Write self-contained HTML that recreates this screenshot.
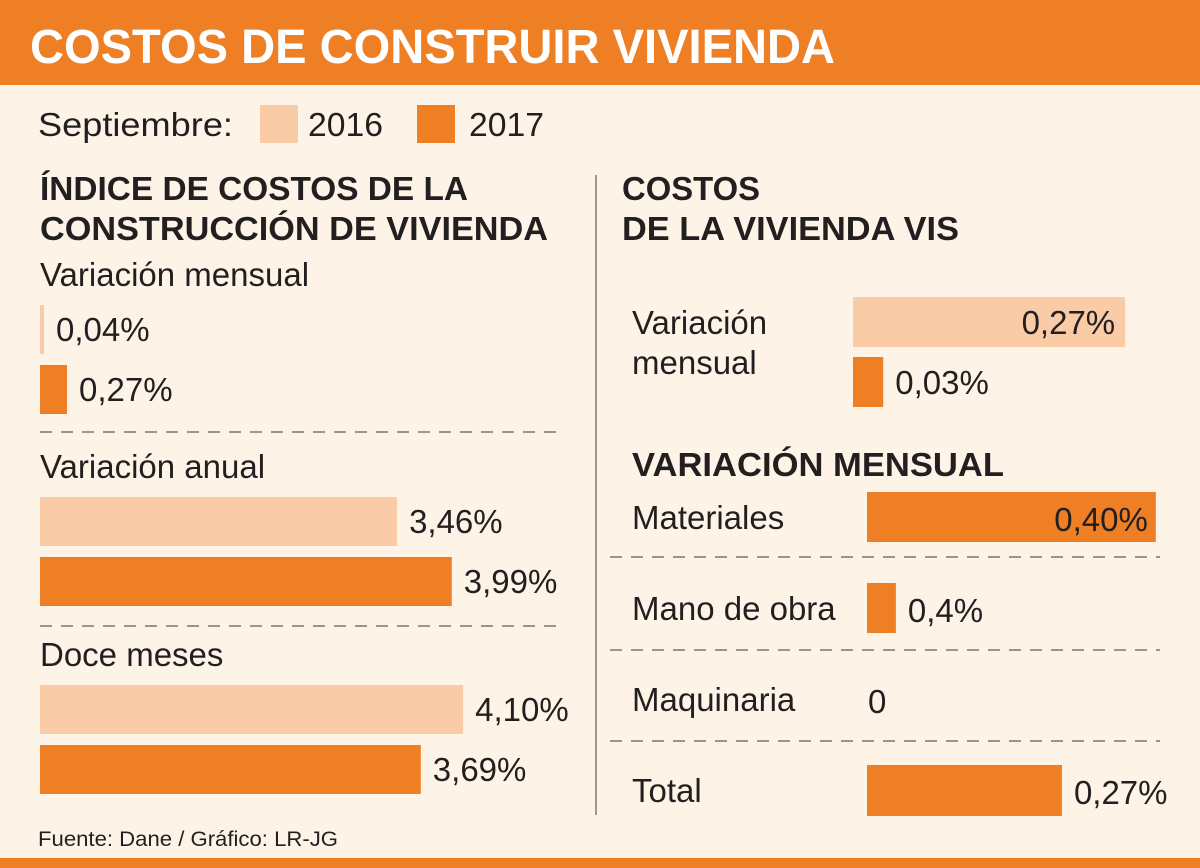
<!DOCTYPE html>
<html><head><meta charset="utf-8"><style>
html,body{margin:0;padding:0;background:#fdf4e7;}
svg{display:block;font-family:"Liberation Sans",sans-serif;}
.t{fill:#231f20;font-size:33px;}
.h{fill:#231f20;font-size:33px;font-weight:bold;}
</style></head><body>
<svg width="1200" height="868" viewBox="0 0 1200 868" xmlns="http://www.w3.org/2000/svg">
<rect x="0" y="0" width="1200" height="868" fill="#fdf4e7"/>
<rect x="0" y="0" width="1200" height="85" fill="#ef7f24"/>
<text x="30" y="63" fill="#fff" font-size="48" font-weight="bold" textLength="805" lengthAdjust="spacingAndGlyphs">COSTOS DE CONSTRUIR VIVIENDA</text>
<text class="t" x="38" y="136" textLength="195" lengthAdjust="spacingAndGlyphs">Septiembre:</text>
<rect x="260" y="105" width="38" height="38" fill="#f9cba6"/>
<text class="t" x="308" y="136" textLength="75" lengthAdjust="spacingAndGlyphs">2016</text>
<rect x="417" y="105" width="38" height="38" fill="#ef7f24"/>
<text class="t" x="469" y="136" textLength="75" lengthAdjust="spacingAndGlyphs">2017</text>

<text class="h" x="40" y="200" textLength="428" lengthAdjust="spacingAndGlyphs">ÍNDICE DE COSTOS DE LA</text>
<text class="h" x="40" y="240" textLength="508" lengthAdjust="spacingAndGlyphs">CONSTRUCCIÓN DE VIVIENDA</text>
<text class="h" x="622" y="200" textLength="138" lengthAdjust="spacingAndGlyphs">COSTOS</text>
<text class="h" x="622" y="240" textLength="337" lengthAdjust="spacingAndGlyphs">DE LA VIVIENDA VIS</text>
<text class="h" x="632" y="476" textLength="372" lengthAdjust="spacingAndGlyphs">VARIACIÓN MENSUAL</text>
<line x1="596" y1="175" x2="596" y2="815" stroke="#999" stroke-width="2"/>

<g id="left"></g>
<g id="right"></g>

<text x="38" y="846" fill="#231f20" font-size="21" textLength="300" lengthAdjust="spacingAndGlyphs">Fuente: Dane / Gráfico: LR-JG</text>
<rect x="0" y="858" width="1200" height="10" fill="#ef7f24"/>
</svg>
<script>
const NS="http://www.w3.org/2000/svg";
// Left chart data
const leftGroups=["Variación mensual","Variación anual","Doce meses"];
const left2016=[0.04,3.46,4.10];
const left2017=[0.27,3.99,3.69];
const leftLabels2016=["0,04%","3,46%","4,10%"];
const leftLabels2017=["0,27%","3,99%","3,69%"];
// Right chart data
const visSeries=["2016","2017"];
const visValues=[0.27,0.03];
const visLabels=["0,27%","0,03%"];
const compCategories=["Materiales","Mano de obra","Maquinaria","Total"];
const compValues=[0.40,0.04,0,0.27];
const compLabels=["0,40%","0,4%","0","0,27%"];

const C16="#f9cba6",C17="#ef7f24";
function mk(p,tag,at){const e=document.createElementNS(NS,tag);for(const k in at)e.setAttribute(k,at[k]);p.appendChild(e);return e;}
const L=document.getElementById('left'),R=document.getElementById('right');

// left axis scales
const xMensual=v=>40+v*100;
const xAnual=v=>40+v*103.2;
const groupY=[252,444,632];
leftGroups.forEach((g,i)=>{
  const sx=i===0?xMensual:xAnual;
  const gy=groupY[i];
  const t=mk(L,'text',{class:'t',x:40,y:gy+34});
  
  
  t.textContent=g;
  [[left2016,leftLabels2016,C16,gy+53],[left2017,leftLabels2017,C17,gy+113]].forEach(([vals,labs,col,y],s)=>{
    const w=Math.max(sx(vals[i])-40,0);
    const r=mk(L,'rect',{x:40,y:y,width:w,height:49,fill:col});
    
    
    const tx=mk(L,'text',{class:'t',x:40+w+12,y:y+36});
    
    
    tx.textContent=labs[i];
  });
});
[432,626].forEach(y=>{
  const l=mk(L,'line',{x1:40,y1:y,x2:556,y2:y,stroke:'#777','stroke-width':1.5,'stroke-dasharray':'12 9'});
  
  
});

// VIS
const xVis=v=>853+v*1008;
const tv1=mk(R,'text',{class:'t',x:632,y:334});


tv1.textContent='Variación';
const tv2=mk(R,'text',{class:'t',x:632,y:374});


tv2.textContent='mensual';
visValues.forEach((v,i)=>{
  const y=297+i*60,w=xVis(v)-853;
  const r=mk(R,'rect',{x:853,y:y,width:w,height:50,fill:i?C17:C16});
  
  
  const inside=w>150;
  const tx=mk(R,'text',{class:'t',x:inside?853+w-10:853+w+12,y:y+37,'text-anchor':inside?'end':'start'});
  
  
  tx.textContent=visLabels[i];
});

// Components
const xComp=v=>867+v*722;
compCategories.forEach((c,i)=>{
  const y=492+i*91;
  const t=mk(R,'text',{class:'t',x:632,y:y+37});
  
  
  t.textContent=c;
  const w=xComp(compValues[i])-867;
  if(w>0){
    const r=mk(R,'rect',{x:867,y:y,width:w,height:i===3?2+49:50,fill:C17});
    
    
  }
  const inside=w>250;
  const tx=mk(R,'text',{class:'t',x:inside?867+w-8:(w>0?867+w+12:868),y:y+39,'text-anchor':inside?'end':'start'});
  
  
  tx.textContent=compLabels[i];
});
[557,650,741].forEach(y=>{
  const l=mk(R,'line',{x1:610,y1:y,x2:1160,y2:y,stroke:'#777','stroke-width':1.5,'stroke-dasharray':'12 9'});
  
  
});
</script>
</body></html>
